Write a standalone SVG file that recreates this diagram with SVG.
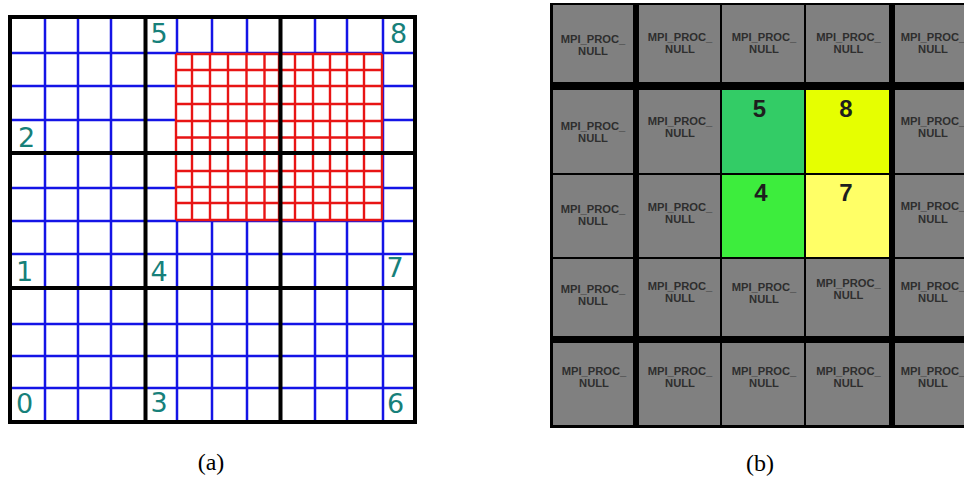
<svg xmlns="http://www.w3.org/2000/svg" width="964" height="477" viewBox="0 0 964 477">
<style>
.blue{stroke:#1414e6;stroke-width:2.5;fill:none}
.red{stroke:#e81414;stroke-width:2.4;fill:none}
.blk{stroke:#000;stroke-width:4;fill:none}
.lab{font-family:"DejaVu Sans",sans-serif;font-size:27px;fill:#17807a;text-anchor:middle}
.cell{fill:#808080}
.t{font-family:"Liberation Sans",Arial,sans-serif;font-weight:bold;font-size:11.2px;fill:#2e2e2e;text-anchor:middle}
.n{font-family:"Liberation Sans",Arial,sans-serif;font-weight:bold;font-size:24px;fill:#1e1e1e;text-anchor:middle}
.cap{font-family:"Liberation Serif","Times New Roman",serif;font-size:24px;fill:#000;text-anchor:middle}
</style>
<rect x="0" y="0" width="964" height="477" fill="#fff"/>
<g id="panel-a">
  <g id="blue-grid" class="blue">
    <path d="M45 17V422M78 17V422M111 17V422M177 17V422M212 17V422M247 17V422M315 17V422M347 17V422M383 17V422"/>
    <path d="M10 53H415M10 86H415M10 120H415M10 188H415M10 221H415M10 254H415M10 324H415M10 356H415M10 388H415"/>
  </g>
  <rect x="176" y="54" width="206" height="166" fill="#fff"/>
  <g id="red-grid" class="red">
    <path d="M176 54V220M192 54V220M210 54V220M228 54V220M246.5 54V220M264.5 54V220M279 54V220M295 54V220M313 54V220M330 54V220M347 54V220M364 54V220M382 54V220"/>
    <path d="M176 54H382M176 70H382M176 86H382M176 104H382M176 121H382M176 137.5H382M176 153H382M176 171H382M176 187H382M176 203H382M176 220H382"/>
  </g>
  <g id="black-grid" class="blk">
    <rect x="10" y="17" width="405" height="405"/>
    <path d="M145.5 17V422M280.5 17V422M10 153H415M10 288H415"/>
  </g>
  <g id="labels-a">
    <text class="lab" x="159" y="43">5</text>
    <text class="lab" x="398.5" y="43">8</text>
    <text class="lab" x="26.5" y="147">2</text>
    <text class="lab" x="24.5" y="281">1</text>
    <text class="lab" x="159" y="281">4</text>
    <text class="lab" x="395" y="277">7</text>
    <text class="lab" x="24.5" y="412.5">0</text>
    <text class="lab" x="159" y="412">3</text>
    <text class="lab" x="395.5" y="413">6</text>
  </g>
  <text class="cap" x="211" y="470">(a)</text>
</g>
<g id="panel-b">
  <rect x="550" y="3" width="420" height="425" fill="#000"/>
  <g id="r1">
    <g id="c11"><rect class="cell" x="553" y="5" width="80" height="77"/><text class="t" x="593" y="43">MPI_PROC_</text><text class="t" x="593" y="55">NULL</text></g>
    <g id="c12"><rect class="cell" x="639" y="5" width="81" height="77"/><text class="t" x="680" y="40.5">MPI_PROC_</text><text class="t" x="680" y="52.5">NULL</text></g>
    <g id="c13"><rect class="cell" x="722" y="5" width="82" height="77"/><text class="t" x="764" y="40.5">MPI_PROC_</text><text class="t" x="764" y="52.5">NULL</text></g>
    <g id="c14"><rect class="cell" x="806" y="5" width="83" height="77"/><text class="t" x="848.5" y="40.5">MPI_PROC_</text><text class="t" x="848.5" y="52.5">NULL</text></g>
    <g id="c15"><rect class="cell" x="895" y="5" width="80" height="77"/><text class="t" x="933" y="40.5">MPI_PROC_</text><text class="t" x="933" y="52.5">NULL</text></g>
  </g>
  <g id="r2">
    <g id="c21"><rect class="cell" x="553" y="90" width="80" height="83"/><text class="t" x="593" y="130">MPI_PROC_</text><text class="t" x="593" y="141.5">NULL</text></g>
    <g id="c22"><rect class="cell" x="639" y="90" width="81" height="83"/><text class="t" x="680" y="125">MPI_PROC_</text><text class="t" x="680" y="136.5">NULL</text></g>
    <g id="c23"><rect x="722" y="90" width="82" height="83" fill="#33cc66"/><text class="n" x="759.5" y="117">5</text></g>
    <g id="c24"><rect x="806" y="90" width="83" height="83" fill="#e6ff00"/><text class="n" x="846" y="117">8</text></g>
    <g id="c25"><rect class="cell" x="895" y="90" width="80" height="83"/><text class="t" x="933" y="125">MPI_PROC_</text><text class="t" x="933" y="136.5">NULL</text></g>
  </g>
  <g id="r3">
    <g id="c31"><rect class="cell" x="553" y="175" width="80" height="82"/><text class="t" x="593" y="212.5">MPI_PROC_</text><text class="t" x="593" y="225">NULL</text></g>
    <g id="c32"><rect class="cell" x="639" y="175" width="81" height="82"/><text class="t" x="680" y="210.5">MPI_PROC_</text><text class="t" x="680" y="222.5">NULL</text></g>
    <g id="c33"><rect x="722" y="175" width="82" height="82" fill="#3ded3d"/><text class="n" x="761" y="200.5">4</text></g>
    <g id="c34"><rect x="806" y="175" width="83" height="82" fill="#ffff66"/><text class="n" x="846" y="200.5">7</text></g>
    <g id="c35"><rect class="cell" x="895" y="175" width="80" height="82"/><text class="t" x="933" y="210">MPI_PROC_</text><text class="t" x="933" y="222.5">NULL</text></g>
  </g>
  <g id="r4">
    <g id="c41"><rect class="cell" x="553" y="259" width="80" height="77"/><text class="t" x="593" y="292.5">MPI_PROC_</text><text class="t" x="593" y="305">NULL</text></g>
    <g id="c42"><rect class="cell" x="639" y="259" width="81" height="77"/><text class="t" x="680" y="290">MPI_PROC_</text><text class="t" x="680" y="301.5">NULL</text></g>
    <g id="c43"><rect class="cell" x="722" y="259" width="82" height="77"/><text class="t" x="764" y="291">MPI_PROC_</text><text class="t" x="764" y="303">NULL</text></g>
    <g id="c44"><rect class="cell" x="806" y="259" width="83" height="77"/><text class="t" x="848.5" y="286.5">MPI_PROC_</text><text class="t" x="848.5" y="299">NULL</text></g>
    <g id="c45"><rect class="cell" x="895" y="259" width="80" height="77"/><text class="t" x="933" y="290">MPI_PROC_</text><text class="t" x="933" y="302">NULL</text></g>
  </g>
  <g id="r5">
    <g id="c51"><rect class="cell" x="553" y="343" width="80" height="82"/><text class="t" x="594" y="375">MPI_PROC_</text><text class="t" x="594" y="387">NULL</text></g>
    <g id="c52"><rect class="cell" x="639" y="343" width="81" height="82"/><text class="t" x="680" y="375">MPI_PROC_</text><text class="t" x="680" y="387">NULL</text></g>
    <g id="c53"><rect class="cell" x="722" y="343" width="82" height="82"/><text class="t" x="764" y="375">MPI_PROC_</text><text class="t" x="764" y="387">NULL</text></g>
    <g id="c54"><rect class="cell" x="806" y="343" width="83" height="82"/><text class="t" x="848.5" y="375">MPI_PROC_</text><text class="t" x="848.5" y="387">NULL</text></g>
    <g id="c55"><rect class="cell" x="895" y="343" width="80" height="82"/><text class="t" x="933" y="375">MPI_PROC_</text><text class="t" x="933" y="387">NULL</text></g>
  </g>
  <text class="cap" x="760" y="471">(b)</text>
</g>
<g id="connectors"></g>
</svg>
